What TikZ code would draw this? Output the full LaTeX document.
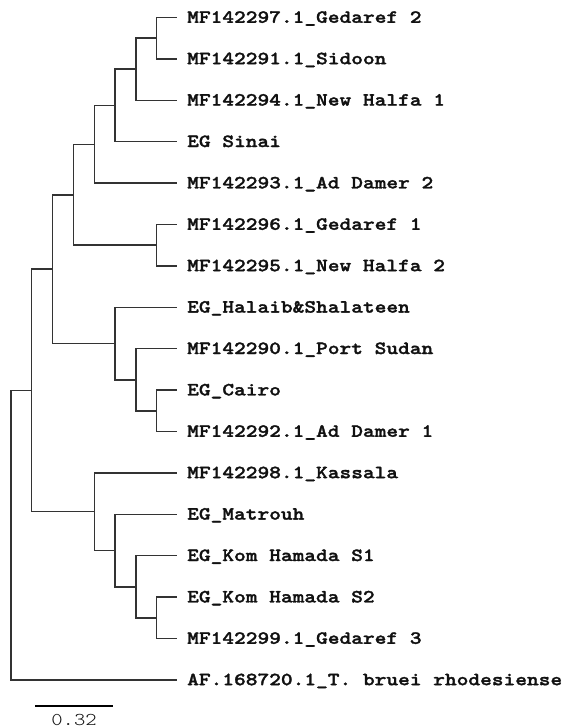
\documentclass[tikz,border=0pt]{standalone}
\usepackage{fontspec}
\newfontfamily\labfont{lmmonolt10-bold.otf}[FakeStretch=1.2,FakeBold=1.6]
\newfontfamily\barfont{lmmonolt10-regular.otf}[FakeStretch=1.2]
\definecolor{branch}{HTML}{333333}
\definecolor{labtext}{HTML}{111111}
\begin{document}
\begin{tikzpicture}[x=1bp,y=-1bp,
  edge/.style={draw=branch,line width=1.5bp},
  lab/.style={anchor=base west,inner sep=0pt,text=labtext,font=\labfont\fontsize{18.6bp}{20bp}\selectfont},
  barlab/.style={anchor=base,inner sep=0pt,text=labtext,font=\barfont\fontsize{18bp}{20bp}\selectfont}]
\useasboundingbox (0,0) rectangle (574,728);
% leaves (tip ends)
\foreach \i/\yy in {0/17.5,1/58.9,2/100.3,3/141.7,4/183.1,5/224.5,6/265.9,7/307.3,8/348.7,9/390.1,10/431.5,11/472.9,12/514.3,13/555.7,14/597.1,15/638.5,16/679.9}
  \coordinate (l\i) at (176.5,\yy);
% internal nodes
\coordinate (A) at (156.7,38.2);
\coordinate (B) at (136,69.25);
\coordinate (C) at (115,105.5);
\coordinate (D) at (94.3,144.3);
\coordinate (F) at (156.7,245.2);
\coordinate (E) at (73.3,194.75);
\coordinate (J) at (156.7,410.8);
\coordinate (I) at (136,379.75);
\coordinate (H) at (115,343.5);
\coordinate (G) at (52.3,269.1);
\coordinate (O) at (156.7,617.8);
\coordinate (N) at (136,586.75);
\coordinate (M) at (115,550.5);
\coordinate (L) at (94.3,511.7);
\coordinate (K) at (31.7,390.4);
\coordinate (R) at (11,535.1);
% edges
\path[edge] (A) |- (l0) (A) |- (l1);
\path[edge] (B) |- (A) (B) |- (l2);
\path[edge] (C) |- (B) (C) |- (l3);
\path[edge] (D) |- (C) (D) |- (l4);
\path[edge] (F) |- (l5) (F) |- (l6);
\path[edge] (E) |- (D) (E) |- (F);
\path[edge] (J) |- (l9) (J) |- (l10);
\path[edge] (I) |- (l8) (I) |- (J);
\path[edge] (H) |- (l7) (H) |- (I);
\path[edge] (G) |- (E) (G) |- (H);
\path[edge] (O) |- (l14) (O) |- (l15);
\path[edge] (N) |- (l13) (N) |- (O);
\path[edge] (M) |- (l12) (M) |- (N);
\path[edge] (L) |- (l11) (L) |- (M);
\path[edge] (K) |- (G) (K) |- (L);
\path[edge] (R) |- (K) (R) |- (l16);
% labels
\node[lab] (t0) at (187,22.8) {MF142297.1\_Gedaref 2};
\node[lab] (t1) at (187,64.2) {MF142291.1\_Sidoon};
\node[lab] (t2) at (187,105.6) {MF142294.1\_New Halfa 1};
\node[lab] (t3) at (187,147.0) {EG Sinai};
\node[lab] (t4) at (187,188.4) {MF142293.1\_Ad Damer 2};
\node[lab] (t5) at (187,229.8) {MF142296.1\_Gedaref 1};
\node[lab] (t6) at (187,271.2) {MF142295.1\_New Halfa 2};
\node[lab] (t7) at (187,312.6) {EG\_Halaib\&Shalateen};
\node[lab] (t8) at (187,354.0) {MF142290.1\_Port Sudan};
\node[lab] (t9) at (187,395.4) {EG\_Cairo};
\node[lab] (t10) at (187,436.8) {MF142292.1\_Ad Damer 1};
\node[lab] (t11) at (187,478.2) {MF142298.1\_Kassala};
\node[lab] (t12) at (187,519.6) {EG\_Matrouh};
\node[lab] (t13) at (187,561.0) {EG\_Kom Hamada S1};
\node[lab] (t14) at (187,602.4) {EG\_Kom Hamada S2};
\node[lab] (t15) at (187,643.8) {MF142299.1\_Gedaref 3};
\node[lab] (t16) at (187,685.2) {AF.168720.1\_T. bruei rhodesiense};
% scale bar
\coordinate (s1) at (35,706.3);
\coordinate (s2) at (112.7,706.3);
\draw[black,line width=2.2bp] (s1) -- (s2);
\node[barlab] (sb) at (74,725.5) {0.32};
\end{tikzpicture}
\end{document}
